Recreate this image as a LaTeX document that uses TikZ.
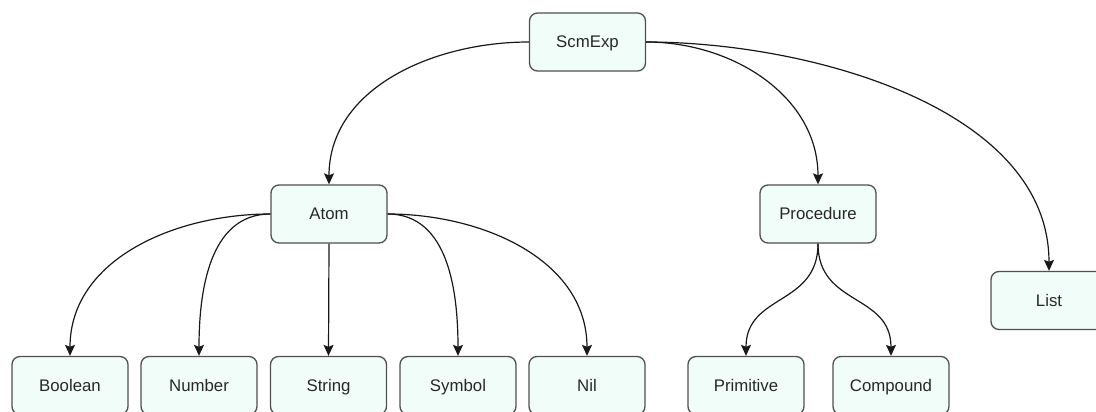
\documentclass[tikz,border=0pt]{standalone}
\usepackage{fontspec}
\setmainfont{Liberation Sans}
\usetikzlibrary{arrows.meta}
\definecolor{boxfill}{RGB}{240,253,248}
\definecolor{boxline}{RGB}{80,80,80}
\definecolor{txt}{RGB}{40,40,40}
\definecolor{edge}{RGB}{25,25,25}
\begin{document}
\begin{tikzpicture}[x=1pt,y=-1pt,
  box/.style={draw=boxline, fill=boxfill, rounded corners=8pt, line width=1.3pt,
    minimum width=116pt, minimum height=58pt, inner sep=0pt,
    text height=12pt, text depth=1pt,
    font=\fontsize{16.8}{20}\selectfont, text=txt},
  link/.style={line width=1.2pt, draw=edge,
    -{Stealth[length=11pt,width=10pt,inset=2pt]}}]
\useasboundingbox (0,0) rectangle (1096,412);
\clip (0,0) rectangle (1096,412);
\node[box] (scm) at (587.5,42) {ScmExp};
\node[box] (atom) at (329,214) {Atom};
\node[box] (proc) at (818,214) {Procedure};
\node[box] (list) at (1049,300.5) {List};
\node[box] (bool) at (70,385.5) {Boolean};
\node[box] (num) at (199,385.5) {Number};
\node[box] (str) at (328.5,385.5) {String};
\node[box] (sym) at (458,385.5) {Symbol};
\node[box] (nil) at (587,385.5) {Nil};
\node[box] (prim) at (746,385.5) {Primitive};
\node[box] (comp) at (891,385.5) {Compound};
\draw[link] (scm.west) to[out=180,in=90] (atom.north);
\draw[link] (scm.east) to[out=0,in=90] (proc.north);
\draw[link] (scm.east) to[out=0,in=90,looseness=0.9] (list.north);
\draw[link] (atom.west) to[out=180,in=90] (bool.north);
\draw[link] (atom.west) to[out=180,in=90] (num.north);
\draw[link] (atom.south) -- (str.north);
\draw[link] (atom.east) to[out=0,in=90] (sym.north);
\draw[link] (atom.east) to[out=0,in=90] (nil.north);
\draw[link] (proc.south) to[out=-90,in=90,looseness=1.2] (prim.north);
\draw[link] (proc.south) to[out=-90,in=90,looseness=1.2] (comp.north);
\end{tikzpicture}
\end{document}
